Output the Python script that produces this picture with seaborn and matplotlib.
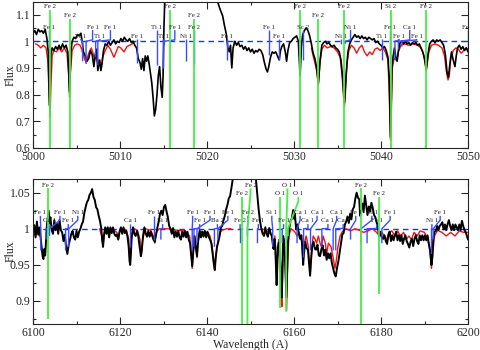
import numpy as np
import pandas as pd
import seaborn as sns
import matplotlib
matplotlib.use("Agg")
import matplotlib.pyplot as plt
from matplotlib.ticker import MultipleLocator, FuncFormatter

# ---------------- data: upper panel (5000-5050 A) ----------------
top_obs_wl = [5000.0, 5000.2, 5000.4, 5000.6, 5000.8, 5001.0, 5001.2, 5001.4, 5001.6, 5001.75, 5001.9, 5002.05,
              5002.2, 5002.4, 5002.6, 5002.8, 5003.0, 5003.2, 5003.4, 5003.6, 5003.8, 5004.0, 5004.2, 5004.35,
              5004.5, 5004.7, 5004.9, 5005.1, 5005.3, 5005.5, 5005.65, 5005.8, 5006.0, 5006.2, 5006.4, 5006.6,
              5006.8, 5007.0, 5007.15, 5007.3, 5007.45, 5007.6, 5007.8, 5007.95, 5008.1, 5008.3, 5008.5, 5008.7,
              5008.9, 5009.1, 5009.3, 5009.5, 5009.7, 5009.9, 5010.1, 5010.3, 5010.5, 5010.7, 5010.9, 5011.1,
              5011.3, 5011.5, 5011.7, 5011.9, 5012.1, 5012.3, 5012.45, 5012.6, 5012.75, 5012.9, 5013.05, 5013.2,
              5013.35, 5013.5, 5013.65, 5013.8, 5013.95, 5014.1, 5014.25, 5014.4, 5014.55, 5014.7, 5014.85,
              5014.95, 5015.05, 5015.15, 5015.3, 5016.0, 5020.0, 5021.0, 5021.2, 5021.5, 5021.8, 5022.0, 5022.2,
              5022.4, 5022.55, 5022.7, 5022.85, 5023.0, 5023.2, 5023.4, 5023.6, 5023.8, 5024.0, 5024.2, 5024.4,
              5024.6, 5024.8, 5025.0, 5025.2, 5025.4, 5025.6, 5025.8, 5026.0, 5026.2, 5026.4, 5026.6, 5026.8,
              5026.95, 5027.1, 5027.3, 5027.5, 5027.7, 5027.9, 5028.1, 5028.3, 5028.45, 5028.6, 5028.8, 5029.0,
              5029.15, 5029.3, 5029.5, 5029.7, 5029.9, 5030.1, 5030.3, 5030.5, 5030.7, 5030.85, 5031.0, 5031.2,
              5031.4, 5031.6, 5031.8, 5032.0, 5032.2, 5032.4, 5032.6, 5032.8, 5033.0, 5033.2, 5033.4, 5033.6,
              5033.8, 5034.0, 5034.2, 5034.4, 5034.6, 5034.8, 5035.0, 5035.2, 5035.4, 5035.6, 5035.8, 5036.0,
              5036.2, 5036.4, 5036.6, 5036.8, 5037.0, 5037.2, 5037.4, 5037.6, 5037.8, 5038.0, 5038.2, 5038.4,
              5038.6, 5038.8, 5039.0, 5039.2, 5039.4, 5039.6, 5039.8, 5040.0, 5040.2, 5040.4, 5040.6, 5040.8,
              5040.95, 5041.1, 5041.25, 5041.4, 5041.55, 5041.7, 5041.85, 5042.0, 5042.2, 5042.4, 5042.6, 5042.8,
              5043.0, 5043.2, 5043.4, 5043.6, 5043.8, 5044.0, 5044.2, 5044.4, 5044.6, 5044.8, 5045.0, 5045.2,
              5045.4, 5045.6, 5045.8, 5046.0, 5046.2, 5046.4, 5046.6, 5046.8, 5047.0, 5047.2, 5047.4, 5047.6,
              5047.75, 5047.9, 5048.1, 5048.3, 5048.5, 5048.65, 5048.8, 5049.0, 5049.2, 5049.4, 5049.6, 5049.8,
              5050.0]
top_obs_flux = [1.030, 1.040, 1.025, 1.045, 1.035, 1.040, 1.030, 1.045, 1.010, 0.960, 0.760, 0.950,
                0.975, 0.965, 0.980, 0.970, 0.985, 0.970, 0.990, 0.975, 0.985, 0.960, 0.810, 0.960,
                1.000, 1.015, 1.010, 1.025, 1.020, 1.030, 1.000, 0.960, 0.945, 0.925, 0.935, 0.965,
                0.950, 0.905, 0.950, 0.970, 0.890, 0.930, 0.890, 0.920, 0.965, 0.990, 0.985, 1.000,
                0.985, 0.995, 1.005, 0.990, 1.000, 0.995, 1.010, 1.000, 1.015, 1.005, 1.000, 1.010,
                0.995, 1.000, 0.985, 0.975, 0.935, 0.920, 0.895, 0.935, 0.890, 0.945, 0.925, 0.945,
                0.915, 0.880, 0.845, 0.790, 0.720, 0.745, 0.800, 0.870, 0.905, 0.830, 0.790,
                0.870, 1.050, 1.160, 1.250, 1.300, 1.300, 1.200, 1.150, 1.120, 1.095, 1.060, 1.030,
                0.975, 0.960, 0.985, 0.900, 0.975, 1.000, 0.985, 0.995, 0.980, 0.985, 0.970, 0.980,
                0.965, 0.975, 0.960, 0.970, 0.955, 0.965, 0.960, 0.970, 0.965, 0.950, 0.920, 0.895,
                0.885, 0.905, 0.940, 0.960, 0.955, 0.960, 0.945, 0.930, 0.965, 0.980, 0.990, 0.960,
                0.925, 0.965, 0.995, 1.000, 1.010, 1.015, 1.020, 1.000, 0.870, 0.980, 1.025, 1.040,
                1.050, 1.040, 1.020, 0.990, 0.955, 0.935, 0.900, 0.845, 0.930, 0.985, 0.995, 1.000,
                0.990, 0.995, 0.985, 0.980, 0.985, 0.975, 0.970, 0.960, 0.930, 0.860, 0.770, 0.880,
                0.960, 0.990, 1.005, 1.015, 1.025, 1.015, 1.020, 1.010, 1.020, 1.010, 1.015, 1.005,
                1.015, 1.010, 1.005, 1.010, 0.995, 1.000, 0.990, 0.985, 0.975, 0.980, 0.965, 0.940,
                0.860, 0.640, 0.900, 0.945, 0.975, 0.940, 0.925, 0.965, 0.995, 1.000, 0.990, 1.000,
                0.990, 0.995, 0.985, 0.995, 0.990, 0.995, 0.985, 0.990, 0.975, 0.960, 0.935, 0.895,
                0.950, 0.990, 1.000, 1.005, 0.995, 1.005, 1.000, 1.005, 0.995, 0.985, 0.950, 0.880,
                0.865, 0.910, 0.960, 0.930, 0.905, 0.945, 0.975, 0.985, 0.970, 0.980, 0.965, 0.975,
                0.960]

top_mod1_wl = [5000.3, 5000.6, 5000.9, 5001.2, 5001.5, 5001.7, 5001.85, 5001.95, 5002.05, 5002.2, 5002.4,
               5002.7, 5003.0, 5003.3, 5003.6, 5003.9, 5004.1, 5004.2, 5004.3, 5004.5, 5004.8, 5005.1, 5005.4,
               5005.6, 5005.8, 5006.1, 5006.4, 5006.7, 5006.9, 5007.1, 5007.3, 5007.5, 5007.7, 5007.85, 5008.0,
               5008.3, 5008.6, 5008.9, 5009.1, 5009.3, 5009.5, 5009.8, 5010.1, 5010.45, 5010.8, 5011.1, 5011.4,
               5011.6]
top_mod1_flux = [0.990, 0.985, 0.975, 0.985, 0.975, 0.930, 0.800, 0.715, 0.820, 0.945, 0.965,
                 0.960, 0.975, 0.960, 0.975, 0.955, 0.880, 0.790, 0.880, 0.965, 0.985, 0.990, 0.985,
                 0.970, 0.945, 0.920, 0.955, 0.975, 0.955, 0.930, 0.950, 0.905, 0.930, 0.900, 0.940,
                 0.965, 0.985, 0.970, 0.955, 0.940, 0.955, 0.980, 0.975, 0.960, 0.980, 0.985, 0.990,
                 0.995]
top_mod2_wl = [5032.0, 5032.2, 5032.4, 5032.6, 5032.8, 5033.0, 5033.2, 5033.5, 5033.8, 5034.2, 5034.6, 5035.0,
               5035.3, 5035.5, 5035.7, 5035.8, 5035.9, 5036.1, 5036.3, 5036.6, 5036.9, 5037.2, 5037.5, 5037.8,
               5038.1, 5038.4, 5038.7, 5039.0, 5039.3, 5039.6, 5039.9, 5040.2, 5040.5, 5040.8, 5040.95, 5041.05,
               5041.1, 5041.2, 5041.3, 5041.5, 5041.7, 5041.85, 5042.0, 5042.3, 5042.7, 5043.2, 5043.7, 5044.2,
               5044.6, 5044.9, 5045.1, 5045.2, 5045.3, 5045.5, 5045.8, 5046.2, 5046.6, 5047.0, 5047.3, 5047.5,
               5047.7, 5047.85, 5048.0, 5048.3, 5048.6, 5048.9, 5049.2, 5049.5, 5049.8, 5050.0]
top_mod2_flux = [0.975, 0.945, 0.920, 0.890, 0.835, 0.920, 0.970, 0.985, 0.975, 0.980, 0.975, 0.960,
                 0.940, 0.880, 0.790, 0.755, 0.800, 0.920, 0.965, 0.985, 0.975, 0.955, 0.975, 0.985,
                 0.960, 0.945, 0.960, 0.950, 0.970, 0.975, 0.965, 0.975, 0.960, 0.930, 0.800, 0.660,
                 0.630, 0.750, 0.900, 0.935, 0.930, 0.930, 0.960, 0.985, 0.990, 0.985, 0.990, 0.985,
                 0.975, 0.950, 0.910, 0.890, 0.910, 0.960, 0.985, 0.990, 0.985, 0.975, 0.945, 0.890,
                 0.855, 0.870, 0.930, 0.965, 0.975, 0.970, 0.955, 0.965, 0.975, 0.970]

# line identifications: wavelength, label, label position, label level, depth, kind (g = strong, b = weak)
top_id_wl = [5001.9, 5001.85, 5004.2, 5005.7, 5006.1, 5007.2, 5007.45, 5012.0, 5014.25, 5014.95, 5015.8,
             5015.1, 5017.55, 5018.5, 5018.5, 5022.3, 5027.1, 5028.3, 5030.7, 5031.0, 5032.8, 5035.8,
             5035.9, 5035.4, 5040.1, 5041.1, 5041.0, 5041.6, 5042.0, 5042.4, 5045.2, 5049.95]
top_id_label = ['Fe 2', 'Fe 1', 'Fe 2', 'Ti 1', 'Fe 1', 'Ti 1', 'Fe 1', 'Fe 1', 'Ti 1', 'Ti 1', 'Fe 2',
                'Fe 1', 'Ni 1', 'Fe 2', 'Fe 2', 'Fe 1', 'Fe 1', 'Fe 1', 'Fe 2', 'Sc 2', 'Fe 2', 'Fe 2',
                'Ni 1', 'Ni 1', 'Ti 1', 'Si 2', 'Fe 1', 'Fe 1', 'Ca 1', 'Fe 1', 'Fe 2', 'Fe 1']
top_id_lx = [5001.9, 5001.85, 5004.2, 5005.5, 5006.85, 5007.7, 5008.9, 5012.0, 5014.25, 5014.95, 5015.8,
             5016.3, 5017.55, 5018.5, 5018.5, 5022.3, 5027.1, 5028.3, 5030.7, 5031.0, 5032.8, 5035.8,
             5036.5, 5035.4, 5040.1, 5041.1, 5041.0, 5042.1, 5043.3, 5044.1, 5045.2, 5049.95]
top_id_top = [1.118, 1.042, 1.085, 1.008, 1.042, 1.008, 1.042, 1.008, 1.042, 1.008, 1.118,
              1.042, 1.008, 1.085, 1.042, 1.008, 1.042, 1.008, 1.118, 1.042, 1.085, 1.118,
              1.042, 1.008, 1.008, 1.118, 1.042, 1.008, 1.042, 1.008, 1.118, 1.042]
top_id_low = [0.6, 0.93, 0.6, 0.925, 0.915, 0.94, 0.91, 0.92, 0.91, 0.90, 0.6,
              0.985, 0.925, 0.6, 0.915, 0.93, 0.95, 0.93, 0.6, 0.93, 0.6, 0.6,
              0.99, 0.99, 0.93, 0.6, 0.92, 0.93, 0.97, 0.98, 0.6, 0.93]
top_id_kind = ['g', 'b', 'g', 'b', 'b', 'b', 'b', 'b', 'b', 'b', 'g',
               'b', 'b', 'g', 'b', 'b', 'b', 'b', 'g', 'b', 'g', 'g',
               'b', 'b', 'b', 'g', 'b', 'b', 'b', 'b', 'g', 'b']

# ---------------- data: lower panel (6100-6200 A) ----------------
bot_obs_wl = [6100.0, 6100.3, 6100.6, 6100.9, 6101.2, 6101.5, 6101.8, 6102.0, 6102.2, 6102.4, 6102.6, 6102.8,
              6103.0, 6103.2, 6103.4, 6103.6, 6103.8, 6104.0, 6104.3, 6104.6, 6104.9, 6105.2, 6105.5, 6105.8,
              6106.1, 6106.4, 6106.7, 6107.0, 6107.3, 6107.6, 6107.9, 6108.2, 6108.5, 6108.8, 6109.1, 6109.4,
              6109.7, 6110.0, 6110.3, 6110.6, 6110.9, 6111.2, 6111.5, 6111.8, 6112.1, 6112.4, 6112.7, 6113.0,
              6113.3, 6113.6, 6113.9, 6114.2, 6114.5, 6114.8, 6115.1, 6115.4, 6115.7, 6115.9, 6116.1, 6116.3,
              6116.6, 6116.9, 6117.2, 6117.5, 6117.8, 6118.1, 6118.4, 6118.7, 6119.0, 6119.3, 6119.6, 6119.9,
              6120.2, 6120.5, 6120.8, 6121.1, 6121.4, 6121.7, 6122.0, 6122.2, 6122.35, 6122.5, 6122.7, 6123.0,
              6123.3, 6123.6, 6123.9, 6124.2, 6124.5, 6124.8, 6125.0, 6125.3, 6125.6, 6125.9, 6126.2, 6126.5,
              6126.8, 6127.1, 6127.4, 6127.7, 6128.0, 6128.3, 6128.6, 6128.9, 6129.2, 6129.5, 6129.8, 6130.1,
              6130.4, 6130.7, 6131.0, 6131.3, 6131.6, 6131.9, 6132.2, 6132.5, 6132.8, 6133.1, 6133.4, 6133.7,
              6134.0, 6134.3, 6134.6, 6134.9, 6135.2, 6135.5, 6135.8, 6136.1, 6136.4, 6136.6, 6136.8, 6137.1,
              6137.4, 6137.7, 6138.0, 6138.3, 6138.6, 6138.9, 6139.2, 6139.5, 6139.8, 6140.1, 6140.4, 6140.7,
              6141.0, 6141.3, 6141.6, 6141.8, 6142.0, 6142.3, 6142.6, 6142.9, 6143.2, 6143.5, 6143.8, 6144.1,
              6144.4, 6144.7, 6145.0, 6145.3, 6145.6, 6145.9, 6146.1, 6146.5, 6148.0, 6150.0, 6151.0, 6151.3,
              6151.6, 6151.9, 6152.2, 6152.5, 6152.8, 6153.1, 6153.4, 6153.7, 6154.0, 6154.3, 6154.6, 6154.9,
              6155.1, 6155.3, 6155.5, 6155.7, 6155.9, 6156.0, 6156.15, 6156.3, 6156.5, 6156.7, 6156.9, 6157.05,
              6157.2, 6157.35, 6157.5, 6157.7, 6157.9, 6158.1, 6158.25, 6158.4, 6158.6, 6158.9, 6159.2, 6159.5,
              6159.8, 6160.0, 6160.2, 6160.5, 6160.8, 6161.1, 6161.4, 6161.7, 6161.9, 6162.1, 6162.3, 6162.6,
              6162.9, 6163.2, 6163.5, 6163.7, 6163.9, 6164.2, 6164.5, 6164.8, 6165.1, 6165.4, 6165.7, 6166.0,
              6166.3, 6166.6, 6166.9, 6167.2, 6167.5, 6167.8, 6168.1, 6168.4, 6168.7, 6169.0, 6169.3, 6169.6,
              6169.9, 6170.2, 6170.5, 6170.8, 6171.1, 6171.4, 6171.7, 6172.0, 6172.3, 6172.6, 6172.9, 6173.2,
              6173.5, 6173.8, 6174.1, 6174.4, 6174.7, 6175.0, 6175.2, 6175.4, 6175.7, 6176.0, 6176.3, 6176.6,
              6176.9, 6177.2, 6177.5, 6177.8, 6178.1, 6178.4, 6178.7, 6179.0, 6179.3, 6179.6, 6179.9, 6180.2,
              6180.5, 6180.8, 6181.1, 6181.4, 6181.7, 6182.0, 6182.3, 6182.6, 6182.9, 6183.2, 6183.5, 6183.8,
              6184.1, 6184.4, 6184.7, 6185.0, 6185.3, 6185.6, 6185.9, 6186.2, 6186.5, 6186.8, 6187.1, 6187.4,
              6187.7, 6188.0, 6188.3, 6188.6, 6188.9, 6189.2, 6189.5, 6189.8, 6190.1, 6190.4, 6190.7, 6191.0,
              6191.3, 6191.6, 6191.8, 6192.0, 6192.3, 6192.6, 6192.9, 6193.2, 6193.5, 6193.8, 6194.1, 6194.4,
              6194.7, 6195.0, 6195.3, 6195.6, 6195.9, 6196.2, 6196.5, 6196.8, 6197.1, 6197.4, 6197.7, 6198.0,
              6198.3, 6198.6, 6198.9, 6199.2, 6199.5, 6199.8, 6200.0]
bot_obs_flux = [0.995, 1.005, 0.988, 1.010, 0.992, 1.002, 0.985, 0.975, 0.962, 0.958, 0.972, 0.963,
                0.985, 1.005, 1.015, 1.025, 1.008, 1.016, 0.998, 0.993, 1.012, 0.998, 1.007, 0.993,
                1.012, 0.998, 0.995, 0.983, 0.992, 0.975, 0.965, 0.978, 0.985, 0.993, 0.997, 0.988,
                0.985, 0.997, 0.988, 0.996, 1.000, 1.006, 1.010, 1.022, 1.030, 1.037, 1.040, 1.047,
                1.050, 1.055, 1.044, 1.040, 1.030, 1.027, 1.018, 1.011, 1.000, 0.985, 0.975, 0.990,
                1.002, 0.993, 1.002, 0.988, 1.002, 0.994, 1.002, 0.993, 0.990, 0.992, 0.985, 0.996,
                1.002, 0.993, 1.002, 0.994, 0.997, 0.990, 0.975, 0.955, 0.950, 0.965, 0.990, 1.002,
                0.993, 0.990, 0.997, 0.990, 0.975, 0.962, 0.970, 0.990, 1.002, 0.994, 0.989, 0.997,
                0.989, 0.996, 0.990, 0.985, 0.982, 0.992, 1.002, 1.010, 1.021, 1.025, 1.019, 1.030,
                1.033, 1.024, 1.016, 1.004, 1.000, 0.993, 1.001, 0.988, 0.996, 0.989, 0.997, 0.988,
                0.985, 0.996, 0.989, 0.997, 0.988, 0.996, 0.985, 0.980, 0.960, 0.948, 0.965, 0.990,
                0.975, 0.962, 0.985, 0.997, 0.988, 0.996, 0.989, 0.997, 0.988, 0.996, 0.989, 0.985,
                0.980, 0.965, 0.950, 0.943, 0.960, 0.975, 0.982, 0.990, 1.002, 1.004, 1.012, 1.018,
                1.027, 1.033, 1.042, 1.045, 1.056, 1.068, 1.080, 1.120, 1.150, 1.150, 1.100, 1.065,
                1.045, 1.025, 1.010, 1.000, 0.993, 0.990, 1.002, 0.993, 0.989, 1.001, 0.994, 0.990,
                0.980, 0.972, 0.986, 0.975, 0.940, 0.922, 0.945, 0.975, 0.981, 0.968, 0.945, 0.920,
                0.905, 0.950, 0.990, 0.984, 0.965, 0.930, 0.905, 0.935, 0.980, 1.000, 1.011, 1.014,
                1.026, 1.014, 1.021, 0.999, 1.006, 0.993, 0.986, 0.991, 0.975, 0.950, 0.966, 0.982,
                0.973, 0.971, 0.950, 0.935, 0.955, 0.977, 0.982, 0.972, 0.971, 0.978, 0.963, 0.962,
                0.972, 0.977, 0.963, 0.971, 0.957, 0.966, 0.959, 0.966, 0.953, 0.945, 0.938, 0.934,
                0.946, 0.955, 0.967, 0.979, 0.992, 0.994, 1.006, 1.010, 1.017, 1.008, 1.021, 1.013,
                1.027, 1.030, 1.042, 1.050, 1.043, 1.041, 1.018, 1.031, 1.035, 1.023, 1.046, 1.033,
                1.019, 1.031, 1.024, 1.036, 1.029, 1.019, 1.016, 1.009, 1.001, 0.989, 0.996, 0.988,
                0.986, 0.991, 0.983, 0.979, 0.991, 0.996, 0.983, 0.991, 0.984, 0.991, 0.996, 0.984,
                0.991, 0.983, 0.991, 0.979, 0.986, 0.991, 0.983, 0.979, 0.974, 0.982, 0.986, 0.976,
                0.986, 0.991, 0.983, 0.979, 0.991, 0.984, 0.991, 0.984, 0.991, 0.984, 0.991, 0.979,
                0.970, 0.950, 0.960, 0.985, 0.996, 0.997, 1.004, 0.998, 1.004, 1.006, 1.009, 0.999,
                1.006, 0.998, 1.006, 1.012, 1.004, 0.998, 1.006, 0.998, 1.006, 1.002, 0.998, 1.006,
                0.998, 1.011, 1.004, 0.998, 0.995, 0.989, 0.985]

bot_mod_a_wl = [6100.0, 6100.5, 6101.0, 6101.5]
bot_mod_a_flux = [0.995, 0.990, 0.995, 0.990]
bot_mod_b_wl = [6115.3, 6115.8, 6116.1, 6116.4, 6117.0, 6118.0, 6119.3, 6119.6, 6119.9, 6120.5, 6121.5, 6122.0,
                6122.3, 6122.6, 6123.2, 6124.0, 6124.6, 6124.9, 6125.2, 6125.8, 6127.0, 6127.7, 6128.0, 6128.3,
                6129.0, 6131.0, 6133.0, 6135.0, 6136.0, 6136.4, 6136.6, 6136.8, 6137.2, 6137.5, 6137.7, 6137.9,
                6138.4, 6139.5, 6140.2, 6140.7, 6141.2, 6141.5, 6141.75, 6142.0, 6142.3, 6142.6, 6143.0, 6143.5,
                6144.5, 6145.5]
bot_mod_b_flux = [1.000, 0.990, 0.975, 0.995, 1.000, 1.000, 0.995, 0.985, 0.995, 1.000, 0.998, 0.985,
                  0.950, 0.985, 1.000, 0.998, 0.985, 0.962, 0.985, 1.000, 0.998, 0.990, 0.980, 0.995,
                  1.000, 1.000, 0.998, 0.997, 0.990, 0.965, 0.945, 0.965, 0.990, 0.975, 0.960, 0.980,
                  0.997, 0.995, 0.995, 0.990, 0.975, 0.955, 0.942, 0.960, 0.975, 0.985, 0.995, 0.998,
                  1.000, 1.000]
bot_mod_c_wl = [6152.5, 6153.5, 6154.5, 6154.9, 6155.3, 6155.6, 6155.9, 6156.0, 6156.2, 6156.5, 6156.8, 6157.0,
                6157.2, 6157.4, 6157.6, 6157.9, 6158.1, 6158.3, 6158.5, 6158.8, 6159.3, 6159.8, 6160.3, 6160.7,
                6161.2, 6161.7, 6162.1, 6162.4, 6162.8, 6163.3, 6163.7, 6164.0, 6164.4, 6164.9, 6165.2, 6165.6,
                6166.0, 6166.3, 6166.7, 6167.2, 6167.5, 6167.9, 6168.5, 6169.0, 6169.4, 6169.7, 6170.1, 6170.6,
                6171.2, 6172.0, 6173.0, 6174.0, 6175.0, 6176.0, 6177.0, 6178.0, 6179.0, 6179.6, 6180.2, 6180.8,
                6181.3, 6181.8, 6182.5, 6183.2, 6183.8, 6184.5, 6185.2, 6185.8, 6186.4, 6187.0, 6187.6, 6188.3,
                6189.0, 6190.0, 6190.8, 6191.2, 6191.6, 6191.9, 6192.3, 6193.0, 6194.0, 6195.0, 6196.0, 6197.0,
                6198.0, 6199.0, 6200.0]
bot_mod_c_flux = [1.000, 0.998, 0.995, 0.990, 0.975, 0.990, 0.940, 0.930, 0.960, 0.985, 0.960, 0.920,
                  0.892, 0.940, 0.985, 0.970, 0.930, 0.887, 0.940, 0.990, 1.000, 0.998, 0.995, 0.990,
                  0.995, 0.985, 0.955, 0.980, 0.990, 0.975, 0.935, 0.965, 0.990, 0.985, 0.980, 0.990,
                  0.980, 0.975, 0.990, 0.980, 0.965, 0.980, 0.975, 0.960, 0.945, 0.955, 0.975, 0.990,
                  0.997, 1.000, 0.997, 1.000, 0.998, 0.995, 0.997, 1.000, 0.995, 0.990, 0.995, 0.990,
                  0.985, 0.995, 0.997, 0.990, 0.997, 0.990, 0.995, 0.985, 0.990, 0.985, 0.995, 0.990,
                  0.997, 0.995, 0.985, 0.970, 0.945, 0.965, 0.990, 0.998, 0.995, 0.990, 0.995, 0.990,
                  0.997, 0.995, 0.995]

bot_id_wl = [6101.8, 6103.0, 6103.5, 6103.8, 6107.5, 6108.2, 6122.3, 6127.9, 6129.4, 6136.6, 6137.0,
             6137.7, 6141.7, 6142.5, 6147.7, 6148.0, 6149.3, 6149.3, 6151.6, 6155.1, 6156.8, 6157.3,
             6158.2, 6158.6, 6160.7, 6162.2, 6163.8, 6166.4, 6169.0, 6169.6, 6173.0, 6175.4, 6176.8,
             6180.2, 6175.3, 6179.6, 6191.6, 6192.0]
bot_id_label = ['Fe 1', 'Ca 1', 'Fe 2', 'Fe 1', 'Fe 1', 'Ni 1', 'Ca 1', 'Fe 1', 'Si 1', 'Fe 1', 'Fe 1',
                'Fe 1', 'Ba 2', 'Fe 1', 'Fe 2', 'Fe 2', 'Fe 2', 'Fe 2', 'Fe 1', 'Si 1', 'O 1', 'Fe 1',
                'O 1', 'O 1', 'Ca 1', 'Ca 1', 'Ca 1', 'Ca 1', 'Ca 1', 'Ca 1', 'Fe 1', 'Ni 1', 'Fe 1',
                'Fe 1', 'Fe 2', 'Fe 2', 'Ni 1', 'Fe 1']
bot_id_lx = [6101.7, 6103.7, 6103.5, 6106.2, 6108.1, 6110.3, 6122.3, 6127.9, 6129.8, 6136.7, 6138.3,
             6140.7, 6142.4, 6144.8, 6147.6, 6148.0, 6150.0, 6149.4, 6151.8, 6154.9, 6156.8, 6157.6,
             6158.5, 6161.0, 6161.4, 6163.2, 6165.3, 6167.8, 6169.8, 6171.3, 6174.2, 6177.9, 6179.0,
             6182.1, 6175.3, 6179.6, 6191.7, 6193.6]
bot_id_top = [1.018, 1.0065, 1.056, 1.018, 1.0065, 1.018, 1.0065, 1.018, 1.0065, 1.018, 1.0065,
              1.018, 1.0065, 1.018, 1.0065, 1.044, 1.056, 1.018, 1.0065, 1.018, 1.044, 1.0065,
              1.056, 1.044, 1.018, 1.0065, 1.018, 1.0065, 1.018, 1.0065, 1.018, 1.018, 1.0065,
              1.018, 1.056, 1.044, 1.0065, 1.018]
bot_id_low = [0.97, 0.985, 0.875, 0.99, 0.97, 0.975, 0.975, 0.985, 0.985, 0.97, 0.975,
              0.98, 0.975, 0.985, 0.98, 0.868, 0.868, 0.99, 0.98, 0.975, 0.89, 0.98,
              0.885, 0.99, 0.98, 0.96, 0.97, 0.975, 0.97, 0.97, 0.985, 0.98, 0.98,
              0.98, 0.868, 0.91, 0.965, 0.985]
bot_id_kind = ['b', 'b', 'g', 'b', 'b', 'b', 'b', 'b', 'b', 'b', 'b',
               'b', 'b', 'b', 'b', 'g', 'g', 'b', 'b', 'b', 'g', 'b',
               'g', 'g', 'b', 'b', 'b', 'b', 'b', 'b', 'b', 'b', 'b',
               'b', 'g', 'g', 'b', 'b']

# ---------------- style ----------------
sns.set_style("ticks")
plt.rcParams['font.family'] = ['Liberation Serif', 'DejaVu Serif']

BLACK = '#000000'
RED = '#f01414'
BLUE = '#3a4cff'
GREEN = '#44ee44'
DASH = '#1f2fff'

fig = plt.figure(figsize=(4.8, 3.5), dpi=100)
ax1 = fig.add_axes([33 / 480, 1 - 148 / 350, 435 / 480, 146 / 350])
ax2 = fig.add_axes([33 / 480, 1 - 324 / 350, 435 / 480, 145 / 350])


def draw_ids(ax, wl, lab, lx, top, low, kind, knee2_fn, fs):
    for pas in ('g', 'b'):
        for w, l, x, t, lo, k in zip(wl, lab, lx, top, low, kind):
            if k != pas:
                continue
            col = GREEN if k == 'g' else BLUE
            lw = 1.3 if k == 'g' else 1.0
            k2 = knee2_fn(t)
            if abs(x - w) < 1e-6:
                xs, ys = [w, w], [lo, t]
            else:
                xs, ys = [w, w, x, x], [lo, 1.0, k2, t]
            ax.plot(xs, ys, color=col, lw=lw, zorder=4 if k == 'g' else 3,
                    solid_capstyle='butt')
            ax.text(x, t + 0.001, l, ha='center', va='bottom', fontsize=fs,
                    color='#222222', zorder=5, clip_on=True)


def style_axes(ax, xlim, ylim, xmaj, xmin, ymaj, ymin):
    ax.set_xlim(*xlim)
    ax.set_ylim(*ylim)
    ax.xaxis.set_major_locator(MultipleLocator(xmaj))
    ax.xaxis.set_minor_locator(MultipleLocator(xmin))
    ax.yaxis.set_major_locator(MultipleLocator(ymaj))
    ax.yaxis.set_minor_locator(MultipleLocator(ymin))
    ax.yaxis.set_major_formatter(FuncFormatter(lambda v, p: f'{v:g}'))
    ax.xaxis.set_major_formatter(FuncFormatter(lambda v, p: f'{v:g}'))
    ax.tick_params(which='both', direction='in', top=True, right=True,
                   labelsize=8.5, width=0.8, pad=2)
    ax.tick_params(which='major', length=5)
    ax.tick_params(which='minor', length=2.5)
    for s in ax.spines.values():
        s.set_linewidth(0.8)
    ax.set_ylabel('Flux', fontsize=8.5)
    ax.yaxis.set_label_coords(-0.038, 0.5)


# upper panel
ax1.axhline(1.0, color=DASH, lw=1.0, ls=(0, (4, 3)), zorder=1)
sns.lineplot(data=pd.DataFrame({'wl': top_obs_wl, 'f': top_obs_flux}), x='wl', y='f',
             ax=ax1, color=BLACK, lw=1.2, sort=False, estimator=None, zorder=2)
for w, f in ((top_mod1_wl, top_mod1_flux), (top_mod2_wl, top_mod2_flux)):
    sns.lineplot(data=pd.DataFrame({'wl': w, 'f': f}), x='wl', y='f', ax=ax1,
                 color=RED, lw=1.0, sort=False, estimator=None, zorder=1.8)
draw_ids(ax1, top_id_wl, top_id_label, top_id_lx, top_id_top, top_id_low, top_id_kind,
         lambda t: 1.005, 5)
style_axes(ax1, (5000, 5050), (0.6, 1.147), 10, 5, 0.1, 0.05)
ax1.set_xlabel('')

# lower panel
ax2.axhline(1.0, color=DASH, lw=1.0, ls=(0, (4, 3)), zorder=1)
sns.lineplot(data=pd.DataFrame({'wl': bot_obs_wl, 'f': bot_obs_flux}), x='wl', y='f',
             ax=ax2, color=BLACK, lw=1.4, sort=False, estimator=None, zorder=2)
for w, f in ((bot_mod_a_wl, bot_mod_a_flux), (bot_mod_b_wl, bot_mod_b_flux),
             (bot_mod_c_wl, bot_mod_c_flux)):
    sns.lineplot(data=pd.DataFrame({'wl': w, 'f': f}), x='wl', y='f', ax=ax2,
                 color=RED, lw=1.0, sort=False, estimator=None, zorder=1.8)
draw_ids(ax2, bot_id_wl, bot_id_label, bot_id_lx, bot_id_top, bot_id_low, bot_id_kind,
         lambda t: t - 0.006, 5)
style_axes(ax2, (6100, 6200), (0.868, 1.069), 20, 10, 0.05, 0.025)
ax2.set_xlabel('Wavelength (A)', fontsize=8.5)
ax2.xaxis.set_label_coords(0.5, -0.105)

fig.savefig('out.png', dpi=100)
